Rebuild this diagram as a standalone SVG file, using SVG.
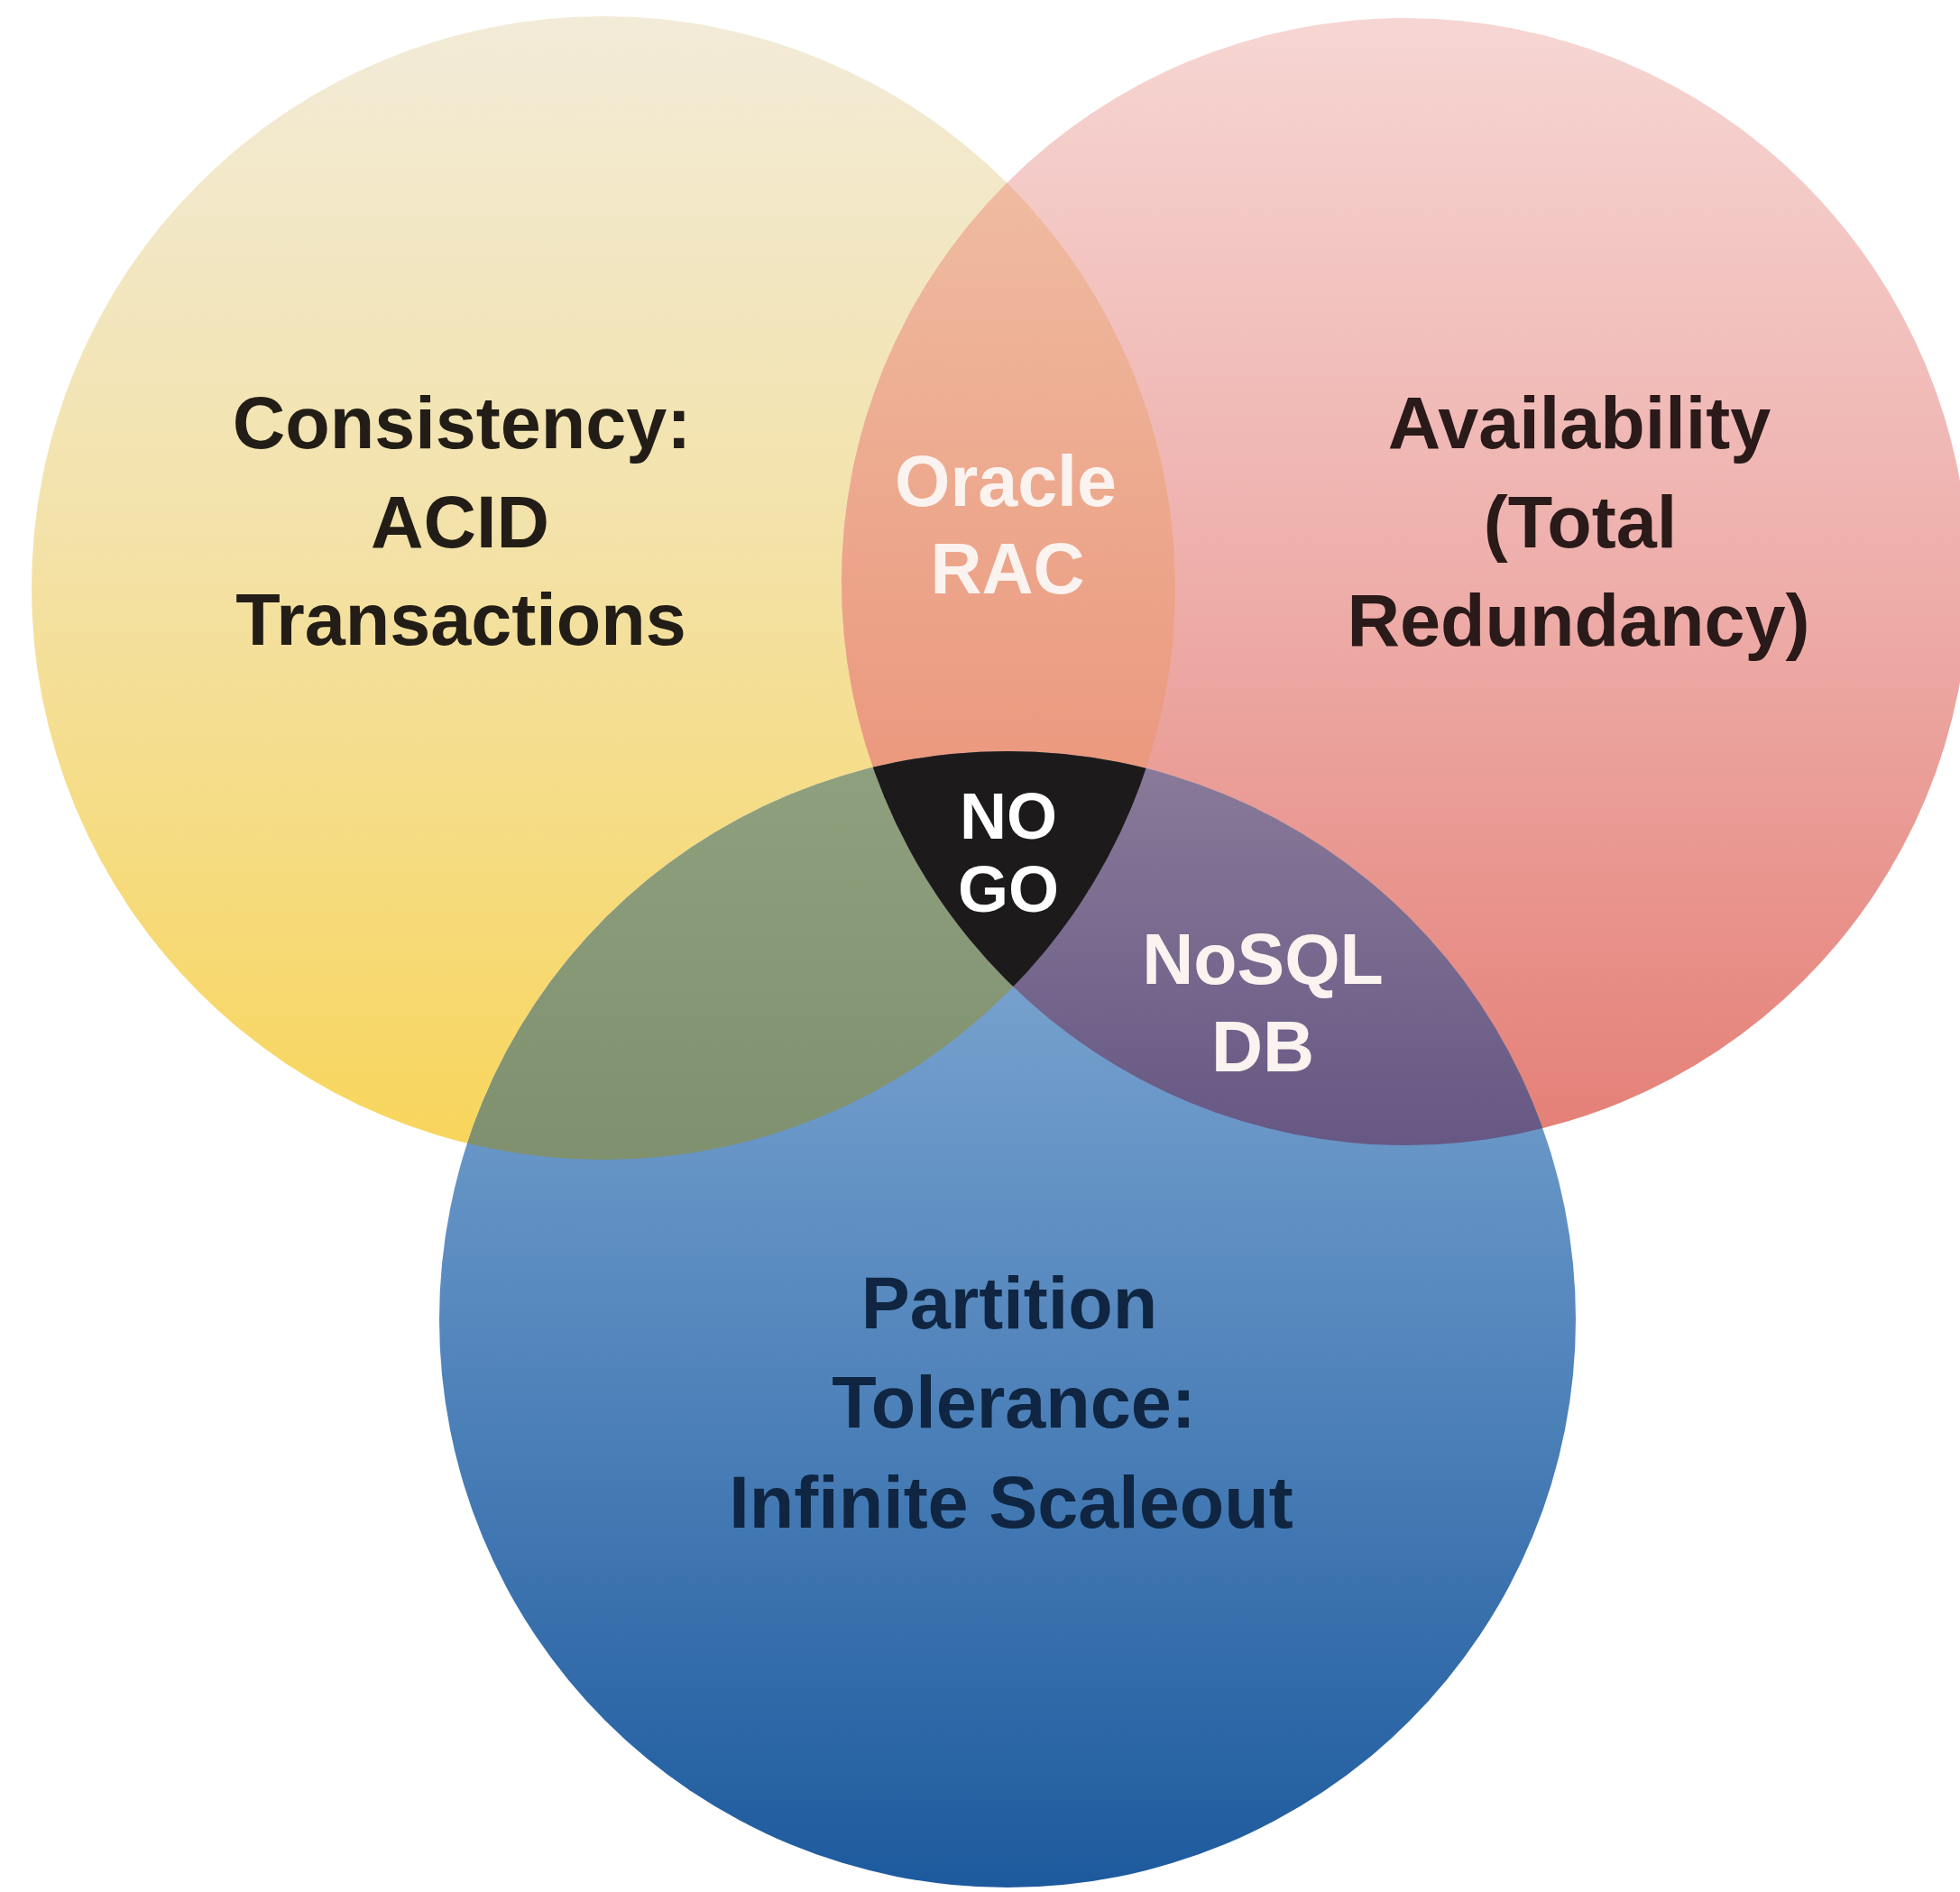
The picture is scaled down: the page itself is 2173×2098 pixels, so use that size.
<svg xmlns="http://www.w3.org/2000/svg" width="2173" height="2098" viewBox="0 0 2173 2098">
<style>
.lbl{font-family:"Liberation Sans",Arial,sans-serif;font-weight:bold;text-anchor:middle}
.dy{fill:#221d16;font-size:81px}
.dp{fill:#2a1a19;font-size:81px}
.db{fill:#0f2541;font-size:81px}
.w{fill:#fbf3ef;font-size:79px}
.ng{fill:#ffffff;font-size:72px}
</style>
<defs>
<linearGradient id="gY" gradientUnits="userSpaceOnUse" x1="0" y1="18" x2="0" y2="1286">
<stop offset="0" stop-color="#f2ebd8"/><stop offset="0.45" stop-color="#f3e2a9"/><stop offset="1" stop-color="#f8d55a"/>
</linearGradient>
<linearGradient id="gP" gradientUnits="userSpaceOnUse" x1="0" y1="20" x2="0" y2="1270">
<stop offset="0" stop-color="#f6d6d3"/><stop offset="0.5" stop-color="#eeaeaa"/><stop offset="1" stop-color="#e47f76"/>
</linearGradient>
<linearGradient id="gB" gradientUnits="userSpaceOnUse" x1="0" y1="833" x2="0" y2="2093">
<stop offset="0" stop-color="#8cb2d8"/><stop offset="0.5" stop-color="#5688be"/><stop offset="1" stop-color="#1d5a9d"/>
</linearGradient>
<linearGradient id="gYP" gradientUnits="userSpaceOnUse" x1="0" y1="200" x2="0" y2="1100">
<stop offset="0" stop-color="#efbba0"/><stop offset="1" stop-color="#e98c72"/>
</linearGradient>
<linearGradient id="gYB" gradientUnits="userSpaceOnUse" x1="0" y1="850" x2="0" y2="1290">
<stop offset="0" stop-color="#8fa07e"/><stop offset="1" stop-color="#7f906f"/>
</linearGradient>
<linearGradient id="gPB" gradientUnits="userSpaceOnUse" x1="0" y1="850" x2="0" y2="1270">
<stop offset="0" stop-color="#897a99"/><stop offset="1" stop-color="#665784"/>
</linearGradient>
<clipPath id="cY"><circle cx="669" cy="652" r="634"/></clipPath>
<clipPath id="cP"><circle cx="1558" cy="645" r="625"/></clipPath>
<clipPath id="cB"><circle cx="1117" cy="1463" r="630"/></clipPath>
</defs>
<rect width="2173" height="2098" fill="#ffffff"/>
<g id="circle-consistency">
<circle cx="669" cy="652" r="634" fill="url(#gY)"/>
</g>
<g id="circle-availability">
<circle cx="1558" cy="645" r="625" fill="url(#gP)"/>
</g>
<g id="circle-partition">
<circle cx="1117" cy="1463" r="630" fill="url(#gB)"/>
</g>
<g id="overlap-oracle-rac">
<circle cx="1558" cy="645" r="625" fill="url(#gYP)" clip-path="url(#cY)"/>
</g>
<g id="overlap-consistency-partition">
<circle cx="1117" cy="1463" r="630" fill="url(#gYB)" clip-path="url(#cY)"/>
</g>
<g id="overlap-nosql">
<circle cx="1117" cy="1463" r="630" fill="url(#gPB)" clip-path="url(#cP)"/>
</g>
<g id="overlap-nogo">
<g clip-path="url(#cY)">
<circle cx="1117" cy="1463" r="630" fill="#1c1a1a" clip-path="url(#cP)"/>
</g>
</g>
<g id="connectors"></g>
<g id="labels">
<text class="lbl dy" x="512" y="497">Consistency:</text>
<text class="lbl dy" x="510" y="607">ACID</text>
<text class="lbl dy" x="511" y="715">Transactions</text>
<text class="lbl dp" x="1751" y="497">Availability</text>
<text class="lbl dp" x="1752" y="607">(Total</text>
<text class="lbl dp" x="1750" y="716">Redundancy)</text>
<text class="lbl w" x="1115" y="561">Oracle</text>
<text class="lbl w" x="1117" y="658">RAC</text>
<text class="lbl ng" x="1118" y="930">NO</text>
<text class="lbl ng" x="1118" y="1011">GO</text>
<text class="lbl w" x="1400" y="1091">NoSQL</text>
<text class="lbl w" x="1400" y="1188">DB</text>
<text class="lbl db" x="1119" y="1473">Partition</text>
<text class="lbl db" x="1124" y="1583">Tolerance:</text>
<text class="lbl db" x="1121" y="1694">Infinite Scaleout</text>
</g>
</svg>
